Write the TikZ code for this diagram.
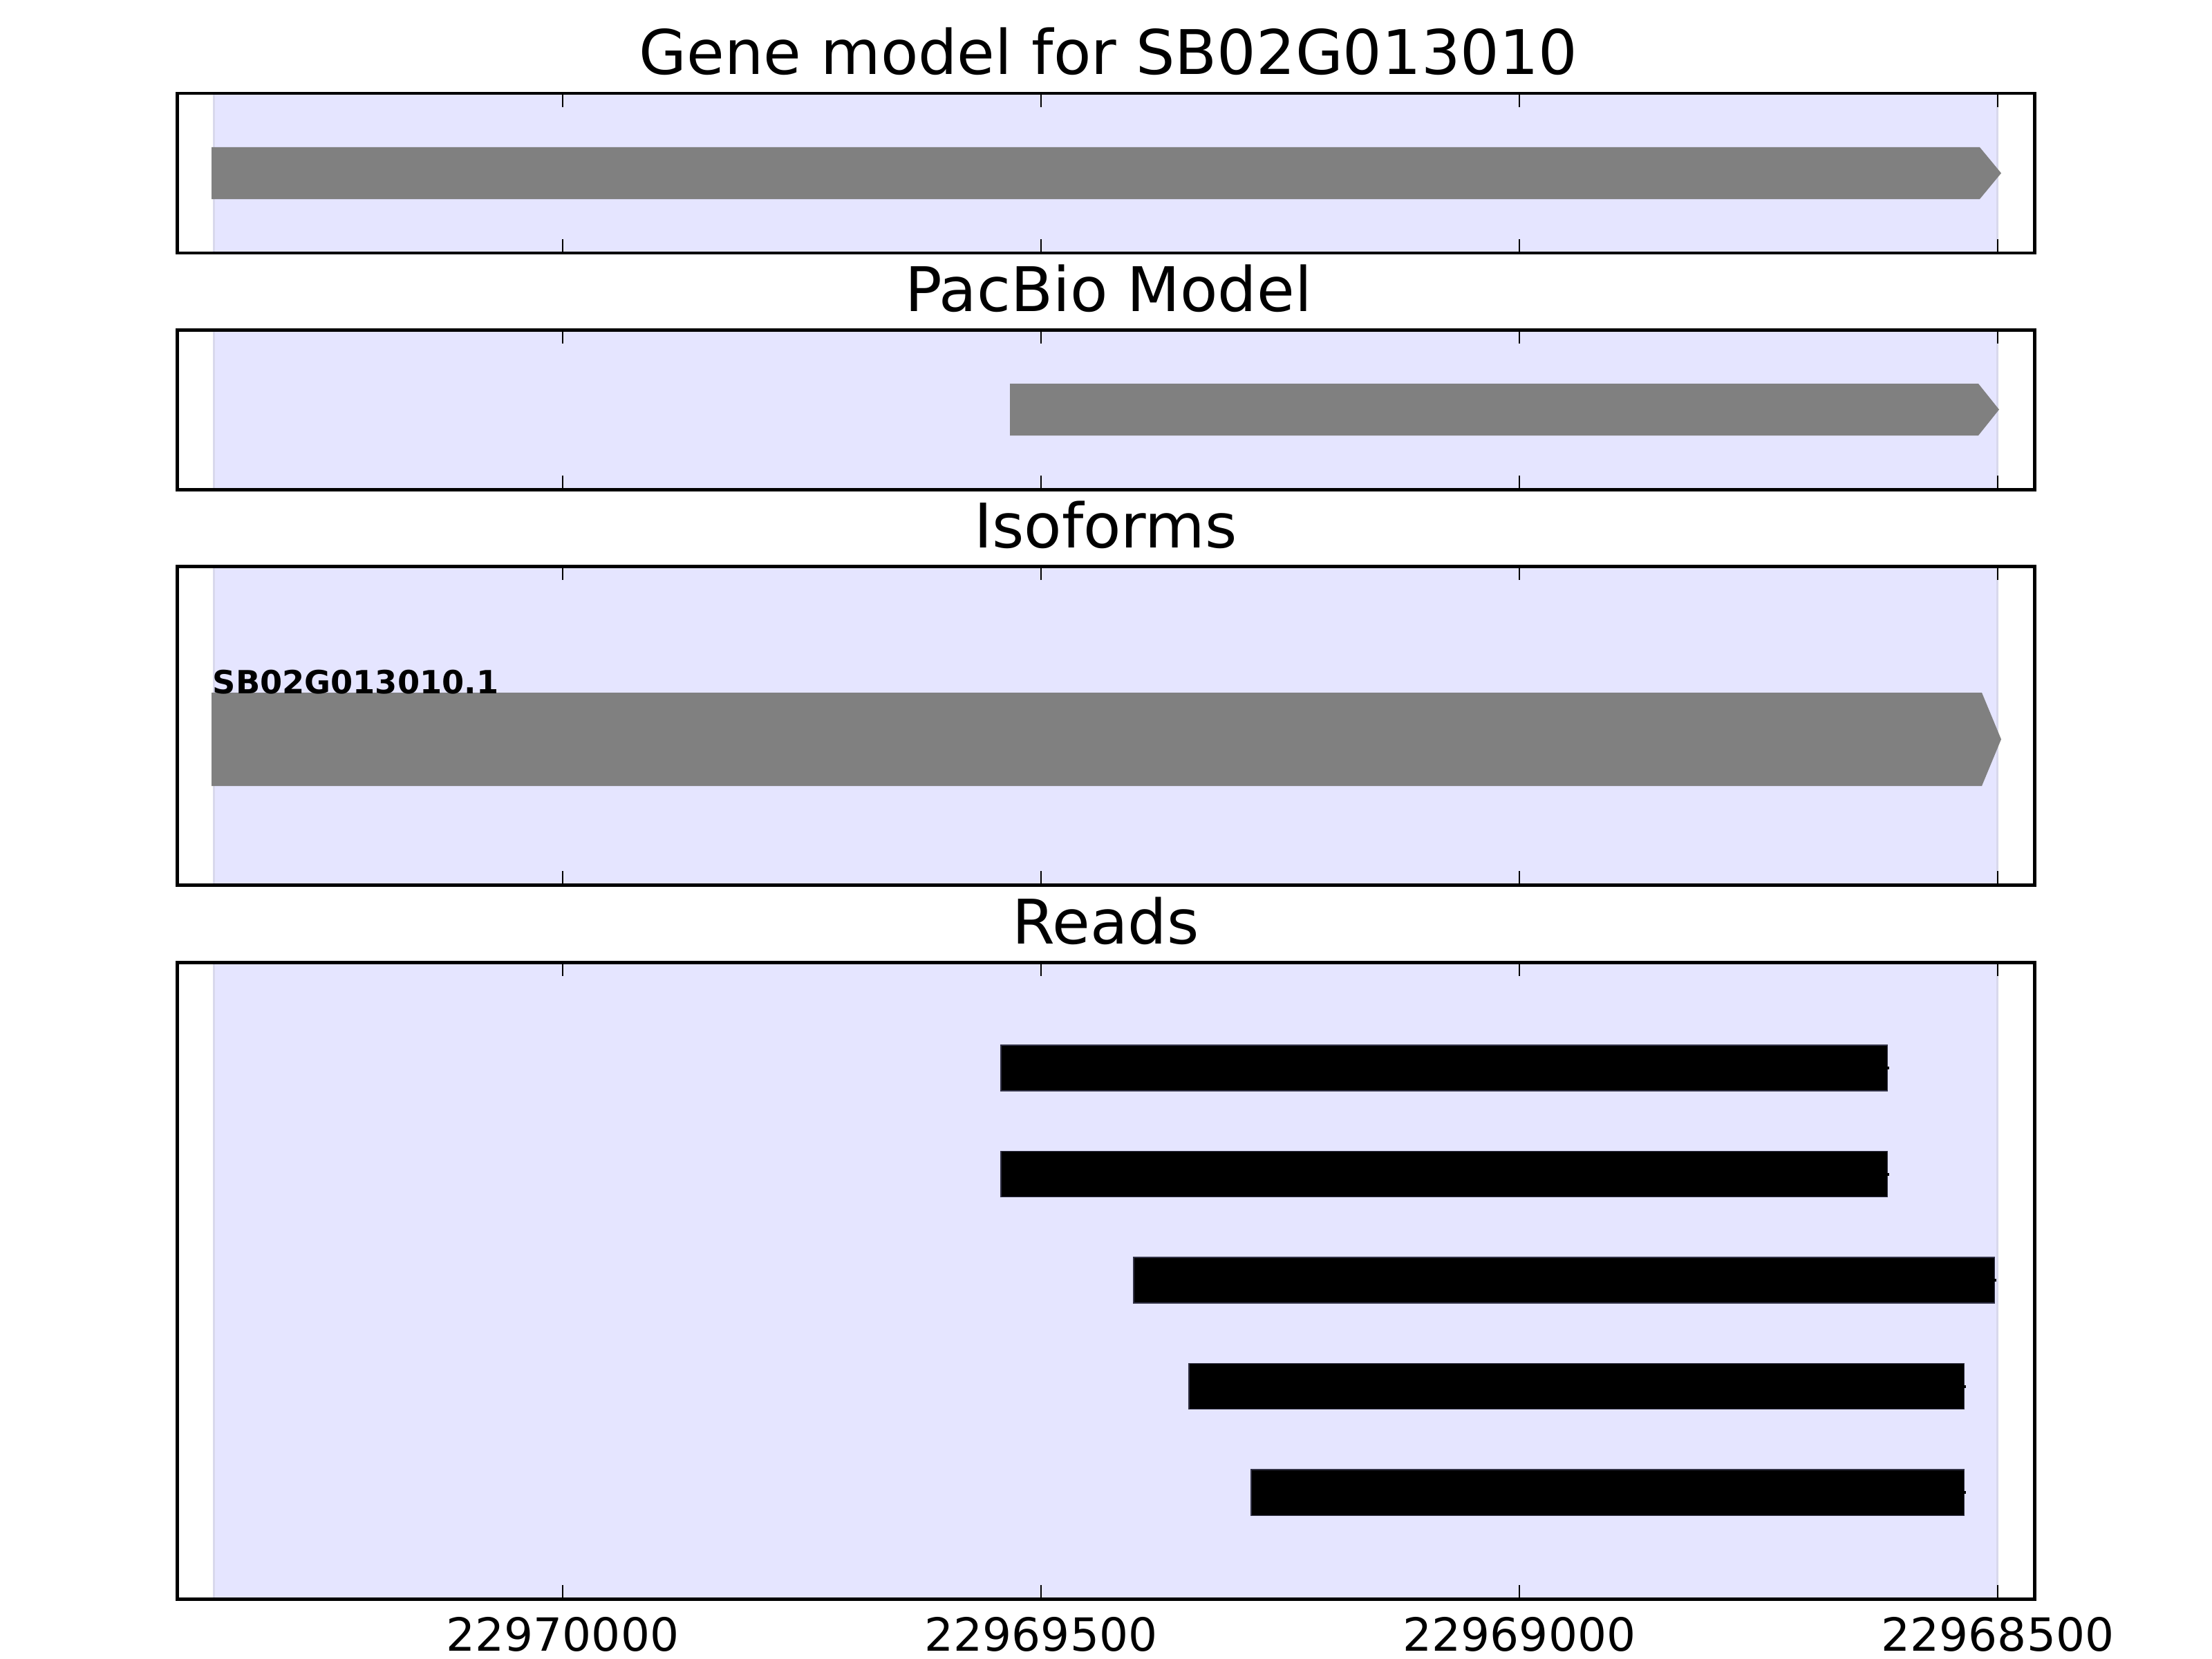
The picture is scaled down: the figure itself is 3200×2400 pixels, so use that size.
\documentclass[tikz,border=0pt]{standalone}
\usepackage{fontspec}
\setmainfont{DejaVu Sans}
\definecolor{spanblue}{RGB}{229,229,255}
\definecolor{spanedge}{RGB}{216,216,236}
\definecolor{genegray}{RGB}{128,128,128}
\definecolor{readedge}{RGB}{50,50,70}
\begin{document}
\begin{tikzpicture}[x=0.01cm,y=-0.01cm,
  frame/.style={draw=black,line width=1.42pt},
  tickmark/.style={draw=black,line width=0.6pt},
  titletext/.style={inner sep=0pt,anchor=base,font=\fontsize{25.3}{30}\selectfont},
  ticklabel/.style={inner sep=0pt,anchor=base,font=\fontsize{18.8}{22}\selectfont},
  isolabel/.style={inner sep=0pt,anchor=base west,font=\fontsize{13.15}{15}\selectfont\bfseries},
  genebar/.style={fill=genegray},
  readbar/.style={fill=black,draw=readedge,line width=0.3pt}]
\useasboundingbox (0,0) rectangle (3200,2400);
\fill[white] (0,0) rectangle (3200,2400);
% panels: background span
\foreach \ya/\yb in {135/366,477/708,819/1280,1392/2313}{
  \fill[spanblue] (310,\ya) rectangle (2889,\yb);
  \draw[spanedge,line width=0.8pt] (309.5,\ya) -- (309.5,\yb);
  \draw[spanedge,line width=0.8pt] (2889.5,\ya) -- (2889.5,\yb);
}
% gene model
\fill[genebar] (306,213) -- (2864,213) -- (2895,250.5) -- (2864,288) -- (306,288) -- cycle;
% pacbio model
\fill[genebar] (1461,555) -- (2862,555) -- (2892,592.5) -- (2862,630) -- (1461,630) -- cycle;
% isoform
\fill[genebar] (306,1002) -- (2867,1002) -- (2895,1069.5) -- (2867,1137) -- (306,1137) -- cycle;
\node[isolabel] (iso1) at (307,1003) {SB02G013010.1};
% reads
\foreach \xa/\xb/\yc in {1448/2730/1545,1448/2730/1698.5,1640/2885/1852,1720/2841/2005.5,1810/2841/2159}{
  \filldraw[readbar] (\xa,\yc-33) rectangle (\xb,\yc+33);
  \fill[black] (\xb,\yc-2) rectangle (\xb+3,\yc+2);
}
% ticks and frames
\foreach \ya/\yb in {135/366,477/708,819/1280,1392/2313}{
  \foreach \x in {814,1506,2198,2890}{
    \draw[tickmark] (\x,\ya) -- ++(0,20);
    \draw[tickmark] (\x,\yb) -- ++(0,-20);
  }
  \draw[frame] (256,\ya) rectangle (2943,\yb);
}
% titles
\node[titletext] (t1) at (1603.5,108) {Gene model for SB02G013010};
\node[titletext] (t2) at (1603.5,450) {PacBio Model};
\node[titletext] (t3) at (1599.5,792) {Isoforms};
\node[titletext] (t4) at (1599.5,1365) {Reads};
% tick labels
\node[ticklabel] (l1) at (814,2388) {22970000};
\node[ticklabel] (l2) at (1506,2388) {22969500};
\node[ticklabel] (l3) at (2198,2388) {22969000};
\node[ticklabel] (l4) at (2890,2388) {22968500};
\end{tikzpicture}
\end{document}
